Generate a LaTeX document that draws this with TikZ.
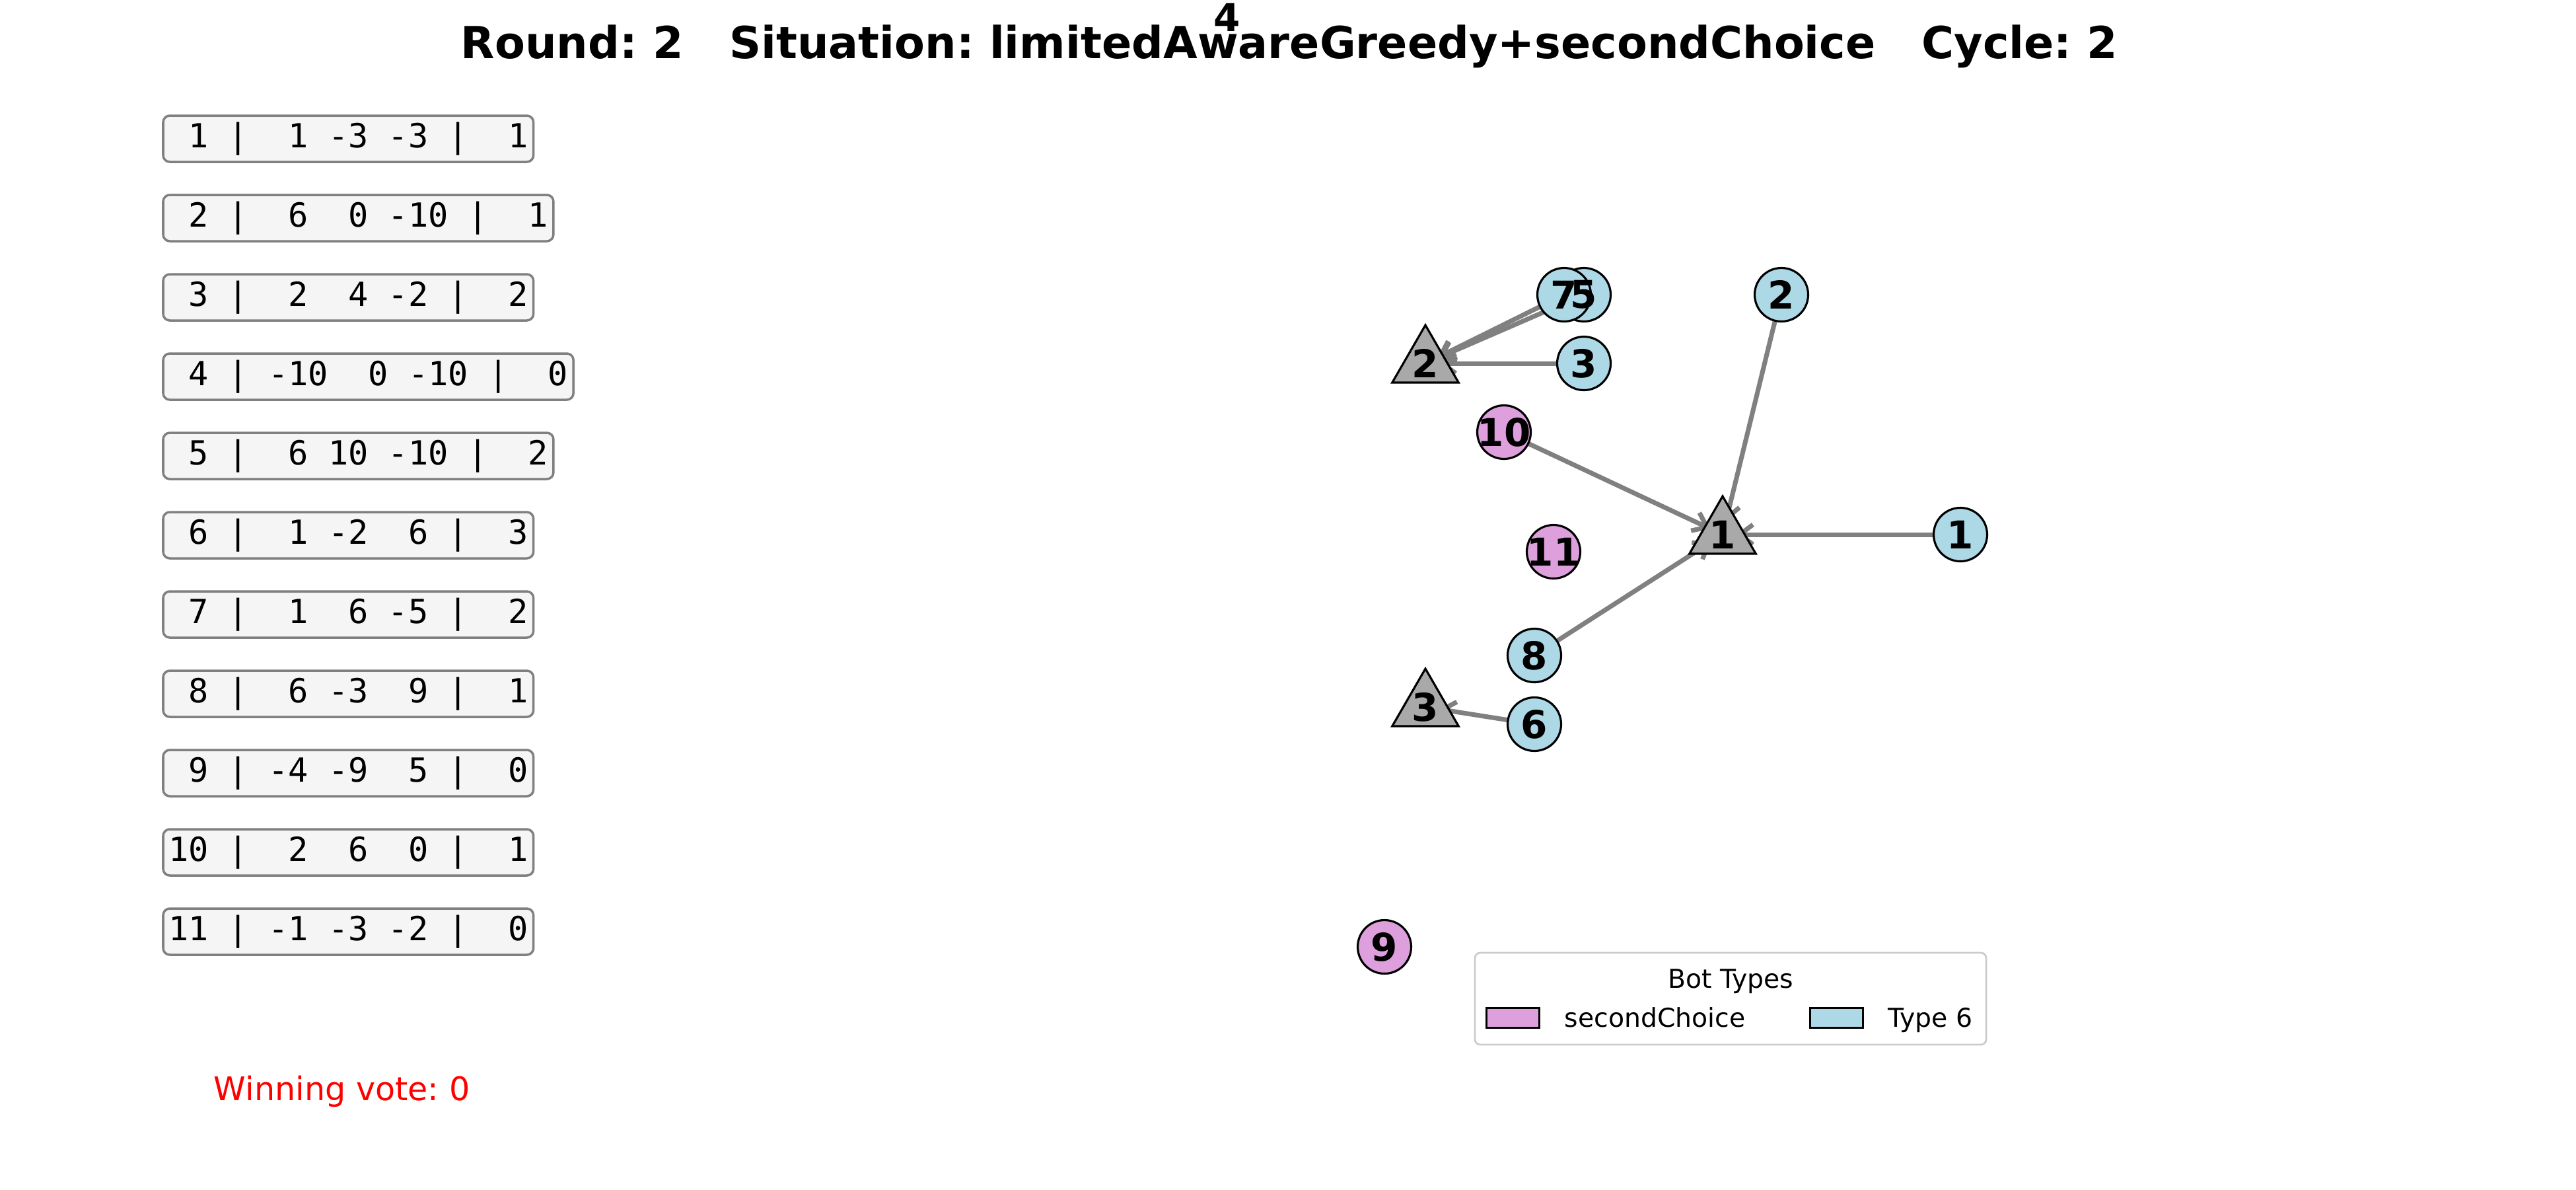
\documentclass[tikz,border=0pt]{standalone}
\usepackage{fontspec}
\setmainfont{DejaVu Sans}
\setmonofont{DejaVu Sans Mono}
\usetikzlibrary{positioning,shapes.geometric,arrows.meta,backgrounds}
\definecolor{botblue}{HTML}{ADD8E6}
\definecolor{botplum}{HTML}{DDA0DD}
\definecolor{optgray}{HTML}{A9A9A9}
\frenchspacing

\begin{document}
\begin{tikzpicture}[
  every node/.style={inner sep=0pt},
  rowbox/.style={rectangle, draw=gray, fill=black!4, rounded corners=0.1cm,
    line width=1pt, outer sep=0pt, minimum height=0.7cm, inner xsep=0.08cm,
    font=\ttfamily\fontsize{14.3}{16}\selectfont},
  bot/.style={circle, draw, line width=0.9pt, minimum size=0.81cm},
  opt/.style={regular polygon, regular polygon sides=3, draw, fill=optgray,
    line width=0.9pt, minimum size=1.16cm},
  num/.style={font=\fontsize{16.5}{18}\selectfont\bfseries},
  link/.style={draw=gray, line width=2pt, shorten >=0.2cm,
    -{Straight Barb[length=0.2cm,width=0.3cm]}},
  legtext/.style={font=\fontsize{11.2}{13}\selectfont, text height=8.2pt,
    text depth=0pt},
  swatch/.style={rectangle, draw, line width=0.8pt, minimum width=0.8cm,
    minimum height=0.3cm}
]
  \useasboundingbox (0,0) rectangle (39,-18);

  % title
  \node[font=\fontsize{19}{22}\selectfont\bfseries, anchor=base] (title) at (19.52,-0.88)
    {Round: 2\ \ \ Situation: limitedAwareGreedy+secondChoice\ \ \ Cycle: 2};
  \node[num, anchor=base] (top4) at (18.58,-0.47) {4};

  % vote table
  \node[rowbox, anchor=west] (r1) at (2.47,-2.10) {~1~|~~1~-3~-3~|~~1};
  \node[rowbox, below=0.5cm of r1.south west, anchor=north west] (r2) {~2~|~~6~~0~-10~|~~1};
  \node[rowbox, below=0.5cm of r2.south west, anchor=north west] (r3) {~3~|~~2~~4~-2~|~~2};
  \node[rowbox, below=0.5cm of r3.south west, anchor=north west] (r4) {~4~|~-10~~0~-10~|~~0};
  \node[rowbox, below=0.5cm of r4.south west, anchor=north west] (r5) {~5~|~~6~10~-10~|~~2};
  \node[rowbox, below=0.5cm of r5.south west, anchor=north west] (r6) {~6~|~~1~-2~~6~|~~3};
  \node[rowbox, below=0.5cm of r6.south west, anchor=north west] (r7) {~7~|~~1~~6~-5~|~~2};
  \node[rowbox, below=0.5cm of r7.south west, anchor=north west] (r8) {~8~|~~6~-3~~9~|~~1};
  \node[rowbox, below=0.5cm of r8.south west, anchor=north west] (r9) {~9~|~-4~-9~~5~|~~0};
  \node[rowbox, below=0.5cm of r9.south west, anchor=north west] (r10) {10~|~~2~~6~~0~|~~1};
  \node[rowbox, below=0.5cm of r10.south west, anchor=north west] (r11) {11~|~-1~-3~-2~|~~0};

  \node[font=\fontsize{14}{16}\selectfont, text=red, anchor=base west] (win)
    at (3.23,-16.65) {Winning vote: 0};

  % options and bots
  \node[opt] (opt1) at (26.08,-8.09) {};
  \node[opt] (opt2) at (21.58,-5.50) {};
  \node[opt] (opt3) at (21.58,-10.70) {};
  \node[bot, fill=botblue] (bot1) at (29.68,-8.09) {};
  \node[bot, fill=botblue] (bot2) at (26.97,-4.46) {};
  \node[bot, fill=botblue] (bot3) at (23.98,-5.50) {};
  \node[bot, fill=botblue] (bot5) at (23.98,-4.46) {};
  \node[bot, fill=botblue] (bot7) at (23.68,-4.46) {};
  \node[bot, fill=botblue] (bot6) at (23.23,-10.96) {};
  \node[bot, fill=botblue] (bot8) at (23.23,-9.92) {};
  \node[bot, fill=botplum] (bot9) at (20.96,-14.33) {};
  \node[bot, fill=botplum] (bot10) at (22.77,-6.54) {};
  \node[bot, fill=botplum] (bot11) at (23.52,-8.35) {};

  % numbers on top
  \node[num] (m1) at (opt1) {1};
  \node[num] (m2) at (opt2) {2};
  \node[num] (m3) at (opt3) {3};
  \node[num] (n1) at (bot1) {1};
  \node[num] (n2) at (bot2) {2};
  \node[num] (n3) at (bot3) {3};
  \node[num] (n5) at (bot5) {5};
  \node[num] (n7) at (bot7) {7};
  \node[num] (n6) at (bot6) {6};
  \node[num] (n8) at (bot8) {8};
  \node[num] (n9) at (bot9) {9};
  \node[num] (n10) at (bot10) {10};
  \node[num] (n11) at (bot11) {11};

  % votes
  \begin{pgfonlayer}{background}
    \draw[link] (bot1) -- (opt1.center);
    \draw[link] (bot2) -- (opt1.center);
    \draw[link] (bot10) -- (opt1.center);
    \draw[link] (bot8) -- (opt1.center);
    \draw[link] (bot3) -- (opt2.center);
    \draw[link] (bot5) -- (opt2.center);
    \draw[link] (bot7) -- (opt2.center);
    \draw[link] (bot6) -- (opt3.center);
  \end{pgfonlayer}

  % legend
  \node[rectangle, draw=black!20, fill=white, rounded corners=0.08cm, line width=0.8pt,
    minimum width=7.74cm, minimum height=1.39cm] (legend) at (26.20,-15.115) {};
  \node[legtext, below=0.25cm of legend.north] (legtitle) {Bot Types};
  \node[swatch, fill=botplum] (swA) at (22.905,-15.405) {};
  \node[legtext, right=0.36cm of swA] (legA) {secondChoice};
  \node[swatch, fill=botblue] (swB) at (27.805,-15.405) {};
  \node[legtext, right=0.36cm of swB] (legB) {Type 6};
\end{tikzpicture}
\end{document}
